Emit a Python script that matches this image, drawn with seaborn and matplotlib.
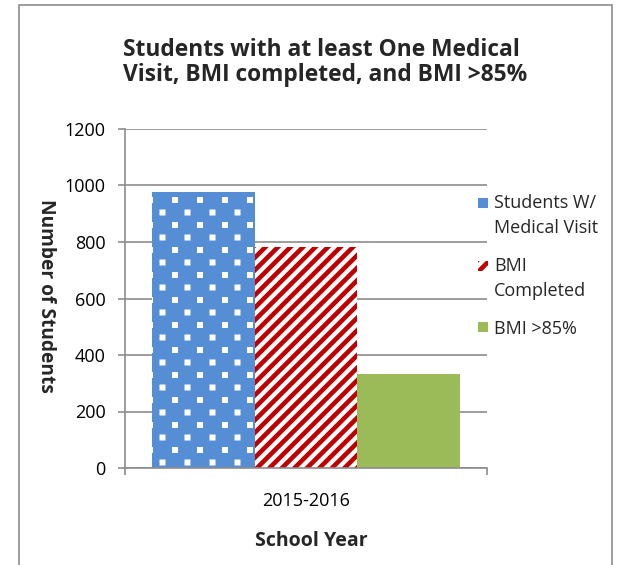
import matplotlib
matplotlib.use("Agg")
import numpy as np
import matplotlib.pyplot as plt
import matplotlib.hatch as mhatch
from matplotlib.path import Path
from matplotlib.patches import Rectangle, Patch
from matplotlib.legend_handler import HandlerPatch
import seaborn as sns
import pandas as pd

years = ["2015-2016"]
series = ["Students W/\nMedical Visit", "BMI\nCompleted", "BMI >85%"]
values = [978, 783, 331]
yticks = [0, 200, 400, 600, 800, 1000, 1200]


# ---- custom hatch patterns (Excel-like dotted grid and diagonal stripes) ----
def _square(cx, cy, h):
    v = [(cx - h, cy - h), (cx + h, cy - h), (cx + h, cy + h), (cx - h, cy + h), (cx - h, cy - h)]
    c = [Path.MOVETO, Path.LINETO, Path.LINETO, Path.LINETO, Path.CLOSEPOLY]
    return v, c


class DotGrid:
    def __init__(self, hatch, density):
        self.v, self.c = [], []
        if "." in hatch:
            ncol, nrow, h = 4, 8, 0.03
            for r in range(nrow + 1):
                y = r / nrow
                if r % 2 == 0:
                    xs = [k / ncol for k in range(ncol + 1)]
                else:
                    xs = [(k + 0.5) / ncol for k in range(ncol)]
                for x in xs:
                    v, c = _square(x, y, h)
                    self.v += v
                    self.c += c
        self.num_vertices = len(self.v)

    def set_vertices_and_codes(self, vertices, codes):
        vertices[:] = np.array(self.v)
        codes[:] = np.array(self.c)


class Stripes:
    def __init__(self, hatch, density):
        self.v, self.c = [], []
        if "/" in hatch:
            n, w = 8, 0.065
            y0, y1 = -0.1, 1.1
            for k in range(-n - 1, n + 2):
                cc = k / n
                self.v += [(y0 + cc - w / 2, y0), (y0 + cc + w / 2, y0),
                           (y1 + cc + w / 2, y1), (y1 + cc - w / 2, y1),
                           (y0 + cc - w / 2, y0)]
                self.c += [Path.MOVETO, Path.LINETO, Path.LINETO, Path.LINETO, Path.CLOSEPOLY]
        self.num_vertices = len(self.v)

    def set_vertices_and_codes(self, vertices, codes):
        vertices[:] = np.array(self.v)
        codes[:] = np.array(self.c)


mhatch._hatch_types = [DotGrid, Stripes]

df = pd.DataFrame({"year": years * len(series), "series": series, "value": values})

sns.set_theme(style="white")
plt.rcParams["font.family"] = ["Open Sans", "DejaVu Sans"]
plt.rcParams["hatch.linewidth"] = 0.0

fig = plt.figure(figsize=(6.24, 5.65), dpi=100)
ax = fig.add_axes([125/624, 1-468/565, (487-125)/624, (468-129)/565])

blue, red, green = "#558ED5", "#C00000", "#9BBB59"
sns.barplot(data=df, x="year", y="value", hue="series", hue_order=series,
            palette=[blue, "white", green], width=0.85, ax=ax, legend=False,
            saturation=1, linewidth=0)

styles = [(blue, "white", "."), ("white", red, "/"), (green, green, None)]
for bar, (fc, ec, h) in zip(ax.patches, styles):
    bar.set_facecolor(fc)
    bar.set_edgecolor(ec)
    bar.set_linewidth(0)
    if h:
        bar.set_hatch(h)

grey = "#8C8C8C"
ax.set_ylim(0, 1200)
ax.set_yticks(yticks)
ax.set_xlim(-0.5, 0.5)
ax.yaxis.grid(True, color=grey, linewidth=1.2)
ax.set_axisbelow(True)
for s in ["top", "right"]:
    ax.spines[s].set_visible(False)
for s in ["left", "bottom"]:
    ax.spines[s].set_color(grey)
    ax.spines[s].set_linewidth(1.2)
ax.tick_params(axis="y", left=True, length=5, color=grey, width=1.2,
               labelsize=13, labelcolor="black", pad=9)
ax.tick_params(axis="x", bottom=False, labelsize=13, labelcolor="black", pad=11)
ax.set_xticks([-0.5, 0.5], minor=True)
ax.tick_params(axis="x", which="minor", bottom=True, length=5, color=grey, width=1.2)
ax.set_xlabel("")
ax.set_ylabel("")


class UpHandler(HandlerPatch):
    def __init__(self, dy=0.0, **kw):
        super().__init__(**kw)
        self.dy = dy

    def create_artists(self, legend, orig_handle, xdescent, ydescent, width, height,
                       fontsize, trans):
        p = Rectangle(xy=(-xdescent, -ydescent + self.dy), width=width, height=height)
        self.update_prop(p, orig_handle, legend)
        p.set_transform(trans)
        return [p]


handles = [Patch(facecolor=fc, edgecolor=ec, hatch=h, linewidth=0) for (fc, ec, h) in styles]
hmap = {handles[0]: UpHandler(9.4), handles[1]: UpHandler(9.4), handles[2]: UpHandler(0)}
leg = fig.legend(handles, series, handler_map=hmap, loc="upper left",
                 bbox_to_anchor=(478/624, 1-194/565),
                 frameon=False, fontsize=13, handlelength=0.55, handleheight=0.5,
                 handletextpad=0.35, labelspacing=1.1, borderaxespad=0, borderpad=0)
for t in leg.get_texts():
    t.set_linespacing(1.5)

fig.text(123/624, 1-56/565, "Students with at least One Medical", ha="left", va="baseline",
         fontsize=16.4, fontweight="bold")
fig.text(123/624, 1-81/565, "Visit, BMI completed, and BMI >85%", ha="left", va="baseline",
         fontsize=16.4, fontweight="bold")
fig.text(46/624, 1-296/565, "Number of Students", rotation=-90, ha="center", va="center",
         fontsize=13.8, fontweight="bold")
fig.text(311/624, 1-546/565, "School Year", ha="center", va="baseline",
         fontsize=14, fontweight="bold")

fig.patches.append(Rectangle((19/624, -0.05), (612-19)/624, 1.05 - 5/565,
                             transform=fig.transFigure, fill=False,
                             edgecolor=grey, linewidth=1.2))

fig.savefig("out.png", dpi=100)
